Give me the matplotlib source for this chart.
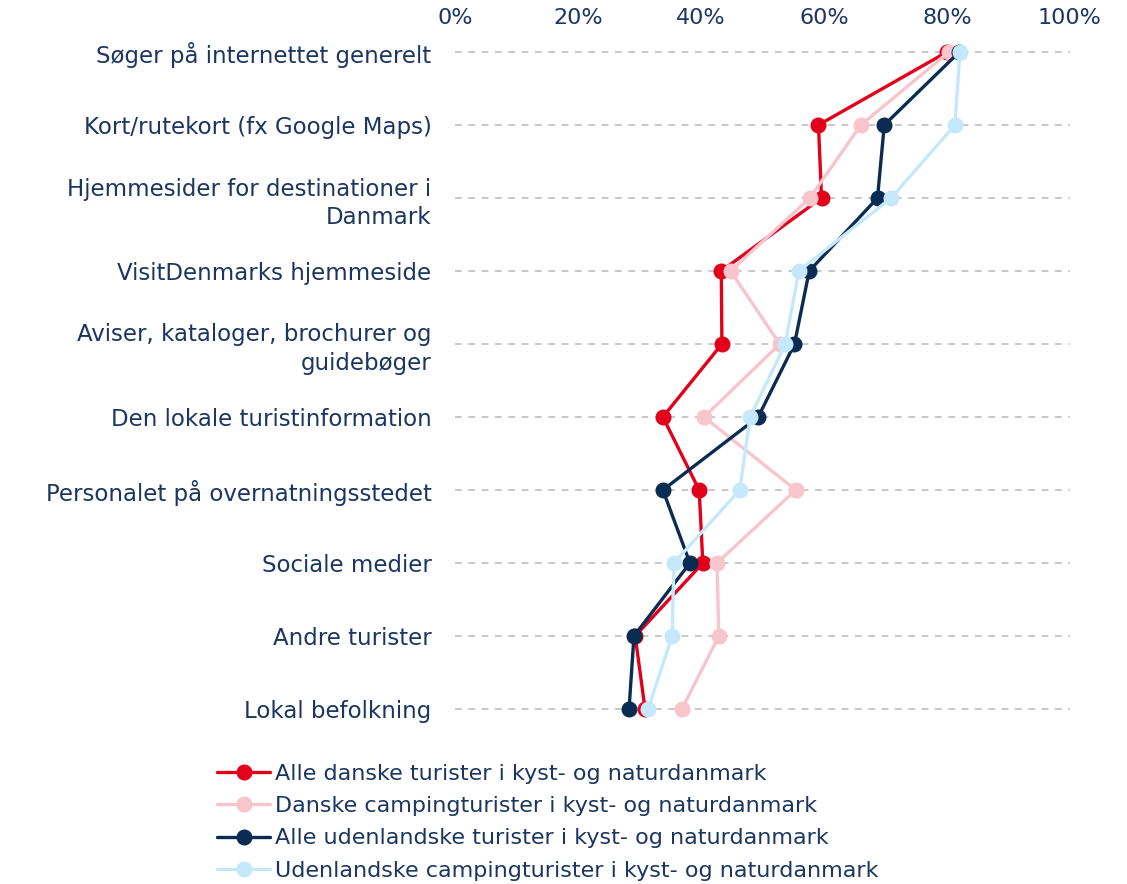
import matplotlib
matplotlib.use("Agg")
import matplotlib.pyplot as plt
from matplotlib.ticker import FuncFormatter

# Categories (top to bottom)
categories = [
    "Søger på internettet generelt",
    "Kort/rutekort (fx Google Maps)",
    "Hjemmesider for destinationer i\nDanmark",
    "VisitDenmarks hjemmeside",
    "Aviser, kataloger, brochurer og\nguidebøger",
    "Den lokale turistinformation",
    "Personalet på overnatningsstedet",
    "Sociale medier",
    "Andre turister",
    "Lokal befolkning",
]

# Shares in percent
alle_danske = [80.0, 59.1, 59.6, 43.3, 43.4, 33.8, 39.7, 40.3, 29.3, 30.9]
danske_camping = [80.3, 66.0, 57.7, 44.8, 52.8, 40.5, 55.4, 42.6, 42.9, 36.9]
alle_udenlandske = [82.0, 69.8, 68.7, 57.6, 55.2, 49.3, 33.8, 38.2, 29.1, 28.3]
udenlandske_camping = [82.1, 81.3, 70.9, 55.9, 53.7, 48.0, 46.3, 35.6, 35.3, 31.4]

series_labels = [
    "Alle danske turister i kyst- og naturdanmark",
    "Danske campingturister i kyst- og naturdanmark",
    "Alle udenlandske turister i kyst- og naturdanmark",
    "Udenlandske campingturister i kyst- og naturdanmark",
]
x_ticks = [0, 20, 40, 60, 80, 100]

TEXT = "#1B3660"
colors = ["#E2001A", "#F8C5CD", "#0A2C52", "#C6E8FB"]

plt.rcParams["font.family"] = ["DejaVu Sans"]

fig = plt.figure(figsize=(11.27, 8.84), dpi=100)
ax = fig.add_axes([455 / 1127, 1 - 730 / 884, 615 / 1127, 695 / 884])

ypos = list(range(len(categories)))
for vals, col, lab in zip(
    [alle_danske, danske_camping, alle_udenlandske, udenlandske_camping],
    colors, series_labels):
    ax.plot(vals, ypos, color=col, lw=2.4, marker="o", markersize=10.5,
            label=lab, solid_capstyle="round", zorder=3)

ax.set_xlim(0, 100)
ax.set_ylim(9 + 21 / 73, -17 / 73)
ax.set_xticks(x_ticks)
ax.xaxis.set_major_formatter(FuncFormatter(lambda v, p: f"{int(v)}%"))
ax.xaxis.tick_top()
ax.tick_params(axis="x", length=0, pad=5, labelsize=16, labelcolor=TEXT)
ax.set_yticks(ypos)
ax.set_yticklabels(categories)
ax.tick_params(axis="y", length=0, pad=17, labelsize=16.5, labelcolor=TEXT)
for t in ax.get_yticklabels():
    t.set_horizontalalignment("right")
    t.set_multialignment("right")
    t.set_linespacing(1.3)

for y in ypos:
    ax.axhline(y, color="#BFBFBF", lw=1.2, ls=(0, (4, 4)), zorder=1)
for s in ax.spines.values():
    s.set_visible(False)

fig.legend(loc="upper left", bbox_to_anchor=(217 / 1127, 1 - 764 / 884),
           frameon=False, fontsize=16, labelcolor=TEXT, handlelength=2.4,
           handletextpad=0.2, labelspacing=0.55, borderaxespad=0,
           borderpad=0)

fig.savefig("out.png", dpi=100, facecolor="white")
